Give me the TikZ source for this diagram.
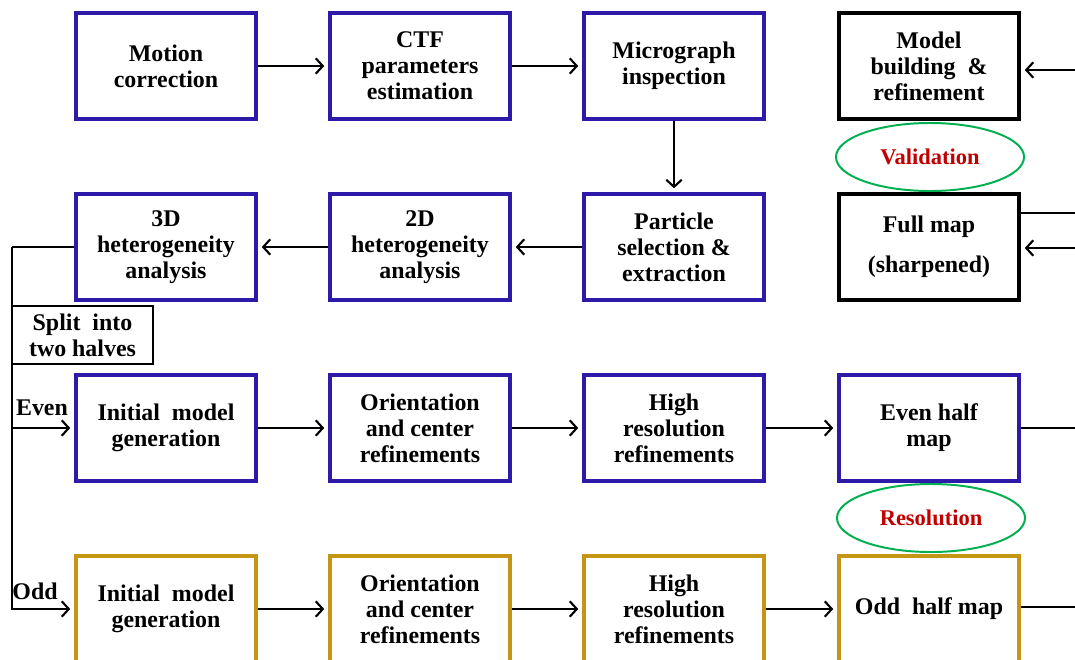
\documentclass[tikz,border=0pt]{standalone}
\usepackage{fontspec}
\setmainfont{Liberation Serif}
\usetikzlibrary{arrows.meta,shapes.geometric}

\definecolor{stageblue}{RGB}{46,26,168}
\definecolor{stagegold}{RGB}{196,150,20}
\definecolor{checkgreen}{RGB}{0,176,80}
\definecolor{checkred}{RGB}{192,0,0}

\begin{document}
\begin{tikzpicture}[x=0.025cm, y=-0.025cm,
  every node/.style={font=\fontsize{17}{18.6}\selectfont\bfseries, align=center},
  stage/.style={draw=stageblue, line width=2.2pt, minimum width=4.5cm, minimum height=2.65cm},
  oddstage/.style={stage, draw=stagegold},
  mapbox/.style={stage, draw=black},
  check/.style={ellipse, draw=checkgreen, line width=1.4pt, minimum width=4.7cm, minimum height=1.7cm,
    text=checkred, font=\fontsize{16}{18}\selectfont\bfseries},
  flow/.style={line width=1.5pt, -{Straight Barb[length=5pt,width=11pt]}, shorten >=3pt},
  wire/.style={line width=1.5pt}]
  \clip (0,0) rectangle (1075,659);

  \node[stage] (motion) at (166,66) {Motion\\correction};
  \node[stage] (ctf) at (420,66) {CTF\\parameters\\estimation};
  \node[stage] (inspect) at (674,66) {Micrograph\\inspection};
  \node[mapbox] (model) at (929,66) {Model\\building \ \&\\refinement};

  \node[stage] (het3d) at (166,247) {3D\\heterogeneity\\analysis};
  \node[stage] (het2d) at (420,247) {2D\\heterogeneity\\analysis};
  \node[stage] (pick) at (674,247) {Particle\\selection \&\\extraction};
  \node[mapbox] (fullmap) at (929,247) {Full map\\[10pt](sharpened)};

  \node[check] (valid) at (930,157) {Validation};
  \node[check] (resol) at (931,518) {Resolution};

  \node[draw, line width=1.4pt, minimum width=3.5cm, minimum height=1.45cm, inner sep=1pt] (split) at (82.5,335) {Split \ into\\two halves};

  \node[stage] (even1) at (166,428) {Initial \ model\\generation};
  \node[stage] (even2) at (420,428) {Orientation\\and center\\refinements};
  \node[stage] (even3) at (674,428) {High\\resolution\\refinements};
  \node[stage] (evenmap) at (929,428) {Even half\\map};

  \node[oddstage] (odd1) at (166,609) {Initial \ model\\generation};
  \node[oddstage] (odd2) at (420,609) {Orientation\\and center\\refinements};
  \node[oddstage] (odd3) at (674,609) {High\\resolution\\refinements};
  \node[oddstage] (oddmap) at (929,609) {Odd \ half map};

  \coordinate (bus) at (12,247);
  \coordinate (modelin) at (1075,70);
  \coordinate (fullout) at (1075,213);
  \coordinate (fullin) at (1075,248);
  \coordinate (evenout) at (1075,428);
  \coordinate (oddout) at (1075,607);

  \draw[flow] (motion) to (ctf);
  \draw[flow] (ctf) to (inspect);
  \draw[flow] (inspect) to (pick);
  \draw[flow] (pick) to (het2d);
  \draw[flow] (het2d) to (het3d);

  \draw[wire] (het3d.west) -- (bus);
  \draw[flow] (bus) |- (odd1.west);
  \draw[flow] (bus |- even1.west) -- (even1.west);
  \node at (42,408) {Even};
  \node at (35,591) {Odd};

  \draw[flow] (even1) to (even2);
  \draw[flow] (even2) to (even3);
  \draw[flow] (even3) to (evenmap);
  \draw[flow] (odd1) to (odd2);
  \draw[flow] (odd2) to (odd3);
  \draw[flow] (odd3) to (oddmap);

  \draw[wire] (evenmap.east |- evenout) -- (evenout);
  \draw[wire] (oddmap.east |- oddout) -- (oddout);
  \draw[wire] (fullmap.east |- fullout) -- (fullout);
  \draw[flow] (fullin) -- (fullin -| fullmap.east);
  \draw[flow] (modelin) -- (modelin -| model.east);
\end{tikzpicture}
\end{document}
